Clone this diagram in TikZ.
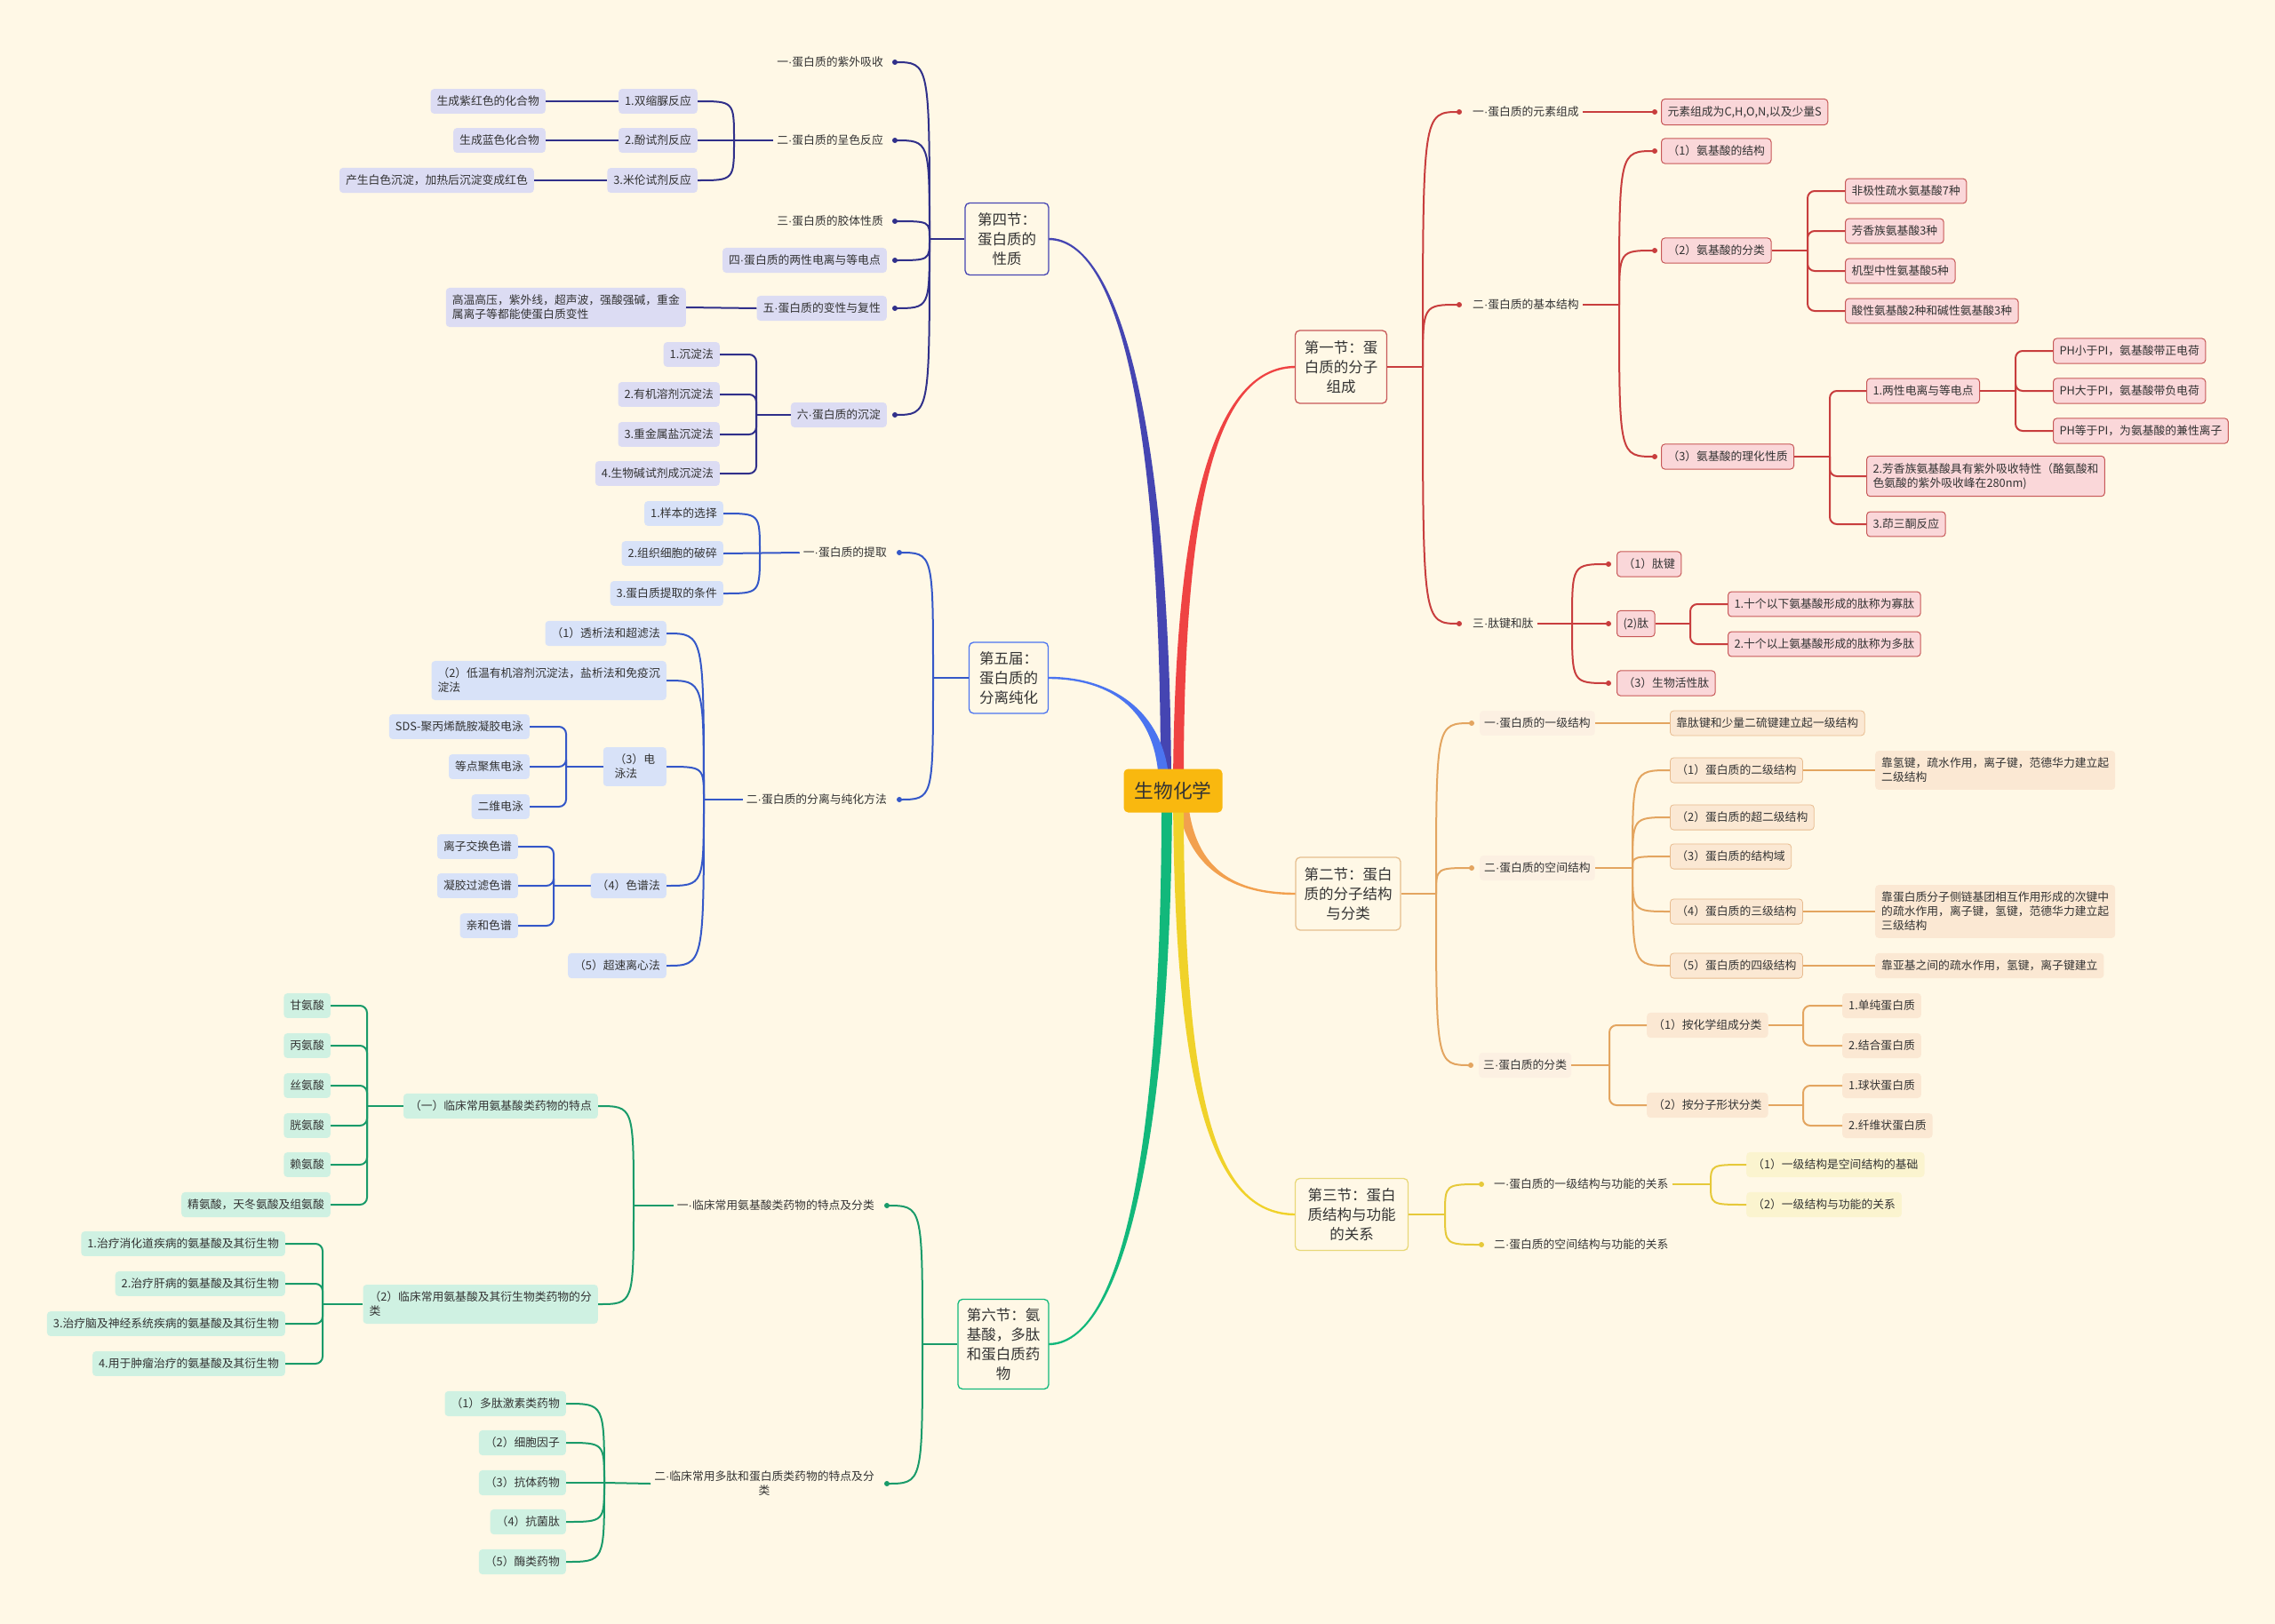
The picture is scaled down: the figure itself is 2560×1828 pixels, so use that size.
\documentclass[tikz,border=0pt]{standalone}
\usepackage{fontspec}
\setmainfont{Noto Sans CJK SC}
\newfontfamily\mdfont{Liberation Sans}
\newcommand\dotc{{\mdfont\char"00B7}}
\definecolor{bg}{HTML}{FFF8E6}
\definecolor{txt}{HTML}{333333}
\definecolor{rootc}{HTML}{F9B80F}
\definecolor{tind}{HTML}{4545B2}
\definecolor{tblu}{HTML}{4B74F0}
\definecolor{tgrn}{HTML}{12B87B}
\definecolor{tred}{HTML}{EF4343}
\definecolor{tora}{HTML}{F2A04E}
\definecolor{tyel}{HTML}{F0D22A}
\definecolor{kind}{HTML}{30308A}
\definecolor{kblu}{HTML}{3558C8}
\definecolor{kgrn}{HTML}{1A9B6A}
\definecolor{kred}{HTML}{C83E3E}
\definecolor{kora}{HTML}{E3A560}
\definecolor{kyel}{HTML}{E6C93A}
\definecolor{flav}{HTML}{DCDCF3}
\definecolor{fblu}{HTML}{D8E2F8}
\definecolor{fgrn}{HTML}{CFF1E2}
\definecolor{fred}{HTML}{FAD7D9}
\definecolor{bred}{HTML}{C75858}
\definecolor{fora}{HTML}{FBE8D3}
\definecolor{bora}{HTML}{E8BC90}
\definecolor{fora2}{HTML}{FCF0E2}
\definecolor{fyel}{HTML}{FBF4CF}
\definecolor{myel}{HTML}{E8D878}
\definecolor{mora}{HTML}{E6BE8E}
\usetikzlibrary{calc}
\newcommand\taper[9]{%
  \pgfmathsetmacro\tpsgn{-sign(#8-#2)*sign(#9-#3)}%
  \fill[#1] ({#2-6},#3) .. controls ({#4-5},#5) and (#6,{#7-\tpsgn*1.2}) .. (#8,{#9-\tpsgn*1.2})
    -- (#8,{#9+\tpsgn*1.2}) .. controls (#6,{#7+\tpsgn*1.2}) and ({#4+5},#5) .. ({#2+6},#3) -- cycle;}
\newcommand\lnkd[4]{%
  \coordinate (tmp) at ([xshift=#4]#3);
  \draw[#1] (#2) .. controls (#2 |- tmp) .. (tmp);
  \fill[#1] (tmp) circle (3);}
\newcommand\lnkn[3]{\draw[#1] (#2) .. controls (#2 |- #3) .. (#3);}
\newcommand\elb[3]{\draw[#1, rounded corners=8] (#2) |- (#3);}
\begin{document}
\begin{tikzpicture}[x=1pt,y=-1pt,
  every node/.style={font=\fontsize{12.8}{16}\selectfont, text=txt},
  bx/.style={rounded corners=4, inner xsep=7, inner ysep=8, align=left},
  lv/.style={inner xsep=4, inner ysep=8, align=left},
  bl4/.style={bx, fill=flav},
  bl5/.style={bx, fill=fblu},
  bl6/.style={bx, fill=fgrn},
  bl1/.style={bx, fill=fred, draw=bred, line width=1},
  bl2/.style={bx, fill=fora, draw=bora, line width=0.8},
  bl2n/.style={bx, fill=fora},
  bl2l/.style={bx, fill=fora2, inner xsep=5},
  bl3/.style={bx, fill=fyel},
  k4/.style={color=kind, line width=2},
  k5/.style={color=kblu, line width=2},
  k6/.style={color=kgrn, line width=2},
  k1/.style={color=kred, line width=2},
  k2/.style={color=kora, line width=2},
  k3/.style={color=kyel, line width=2},
  mainbox/.style={draw, line width=1.3, rounded corners=5, fill=bg, align=center, inner sep=2, font=\fontsize{16.5}{22}\selectfont}
]
\fill[bg] (0,0) rectangle (2560,1828);
\useasboundingbox (0,0) rectangle (2560,1828);

% trunks
\taper{tind}{1312}{890}{1312}{480}{1260}{269}{1180}{269}
\taper{tblu}{1310}{890}{1310}{800}{1250}{763}{1180}{763}
\taper{tgrn}{1313}{890}{1313}{1300}{1260}{1513}{1180}{1513}
\taper{tred}{1326}{890}{1326}{560}{1370}{413}{1458}{413}
\taper{tora}{1330}{890}{1335}{980}{1390}{1006}{1458}{1006}
\taper{tyel}{1326}{890}{1326}{1250}{1370}{1367}{1458}{1367}

\node[fill=rootc, rounded corners=5, minimum width=111, minimum height=49, font=\fontsize{21.7}{26}\selectfont] (root) at (1320,890) {生物化学};

% ===== 第四节 =====
\node[mainbox, draw=tind, minimum width=94, minimum height=81] (A4) at (1133,269) {第四节：\\蛋白质的\\性质};
\coordinate (s4) at (1046,269);
\node[lv, anchor=east] (A4a) at (998,70) {一\dotc 蛋白质的紫外吸收};
\node[lv, anchor=east] (A4b) at (998,158) {二\dotc 蛋白质的呈色反应};
\node[lv, anchor=east] (A4c) at (998,249) {三\dotc 蛋白质的胶体性质};
\node[bl4, anchor=east] (A4d) at (998,293) {四\dotc 蛋白质的两性电离与等电点};
\node[bl4, anchor=east] (A4e) at (998,347) {五\dotc 蛋白质的变性与复性};
\node[bl4, anchor=east] (A4f) at (998,467) {六\dotc 蛋白质的沉淀};
\draw[k4] (A4.west) -- (s4);
\lnkd{k4}{s4}{A4a.east}{9}
\lnkd{k4}{s4}{A4b.east}{9}
\lnkd{k4}{s4}{A4c.east}{9}
\lnkd{k4}{s4}{A4d.east}{9}
\lnkd{k4}{s4}{A4e.east}{9}
\lnkd{k4}{s4}{A4f.east}{9}

\node[bl4, anchor=east] (A4b1) at (785,114) {1.双缩脲反应};
\node[bl4, anchor=east] (A4b2) at (785,158) {2.酚试剂反应};
\node[bl4, anchor=east] (A4b3) at (785,203) {3.米伦试剂反应};
\coordinate (s4b) at (826,158);
\draw[k4] (A4b.west) -- (A4b2.east);
\lnkn{k4}{s4b}{A4b1.east}
\lnkn{k4}{s4b}{A4b3.east}
\node[bl4, anchor=east] (A4b1a) at (614,114) {生成紫红色的化合物};
\node[bl4, anchor=east] (A4b2a) at (614,158) {生成蓝色化合物};
\node[bl4, anchor=east] (A4b3a) at (601,203) {产生白色沉淀，加热后沉淀变成红色};
\draw[k4] (A4b1.west) -- (A4b1a.east);
\draw[k4] (A4b2.west) -- (A4b2a.east);
\draw[k4] (A4b3.west) -- (A4b3a.east);

\node[bl4, anchor=east] (A4e1) at (772,346) {高温高压，紫外线，超声波，强酸强碱，重金\\属离子等都能使蛋白质变性};
\draw[k4] (A4e.west) -- (A4e1.east);

\coordinate (s4f) at (851,467);
\node[bl4, anchor=east] (A4f1) at (810,399) {1.沉淀法};
\node[bl4, anchor=east] (A4f2) at (810,444) {2.有机溶剂沉淀法};
\node[bl4, anchor=east] (A4f3) at (810,489) {3.重金属盐沉淀法};
\node[bl4, anchor=east] (A4f4) at (810,533) {4.生物碱试剂成沉淀法};
\draw[k4] (A4f.west) -- (s4f);
\elb{k4}{s4f}{A4f1.east}
\elb{k4}{s4f}{A4f2.east}
\elb{k4}{s4f}{A4f3.east}
\elb{k4}{s4f}{A4f4.east}

% ===== 第五届 =====
\node[mainbox, draw=tblu, minimum width=89, minimum height=80] (A5) at (1135,763) {第五届：\\蛋白质的\\分离纯化};
\coordinate (s5) at (1050,763);
\node[lv, anchor=east] (A5a) at (1002,622) {一\dotc 蛋白质的提取};
\node[lv, anchor=east] (A5b) at (1002,900) {二\dotc 蛋白质的分离与纯化方法};
\draw[k5] (A5.west) -- (s5);
\lnkd{k5}{s5}{A5a.east}{10}
\lnkd{k5}{s5}{A5b.east}{10}

\coordinate (s5a) at (855,622);
\node[bl5, anchor=east] (A5a1) at (814,578) {1.样本的选择};
\node[bl5, anchor=east] (A5a2) at (814,623) {2.组织细胞的破碎};
\node[bl5, anchor=east] (A5a3) at (814,668) {3.蛋白质提取的条件};
\draw[k5] (A5a.west) -- (A5a2.east);
\lnkn{k5}{s5a}{A5a1.east}
\lnkn{k5}{s5a}{A5a3.east}

\coordinate (s5b) at (792,900);
\node[bl5, anchor=east] (A5b1) at (750,713) {（1）透析法和超滤法};
\node[bl5, anchor=east] (A5b2) at (750,766) {（2）低温有机溶剂沉淀法，盐析法和免疫沉\\淀法};
\node[bl5, anchor=east, minimum width=71] (A5b3) at (750,863) {（3）电\\泳法};
\node[bl5, anchor=east] (A5b4) at (750,997) {（4）色谱法};
\node[bl5, anchor=east] (A5b5) at (750,1087) {（5）超速离心法};
\draw[k5] (A5b.west) -- (s5b);
\lnkn{k5}{s5b}{A5b1.east}
\lnkn{k5}{s5b}{A5b2.east}
\lnkn{k5}{s5b}{A5b3.east}
\lnkn{k5}{s5b}{A5b4.east}
\lnkn{k5}{s5b}{A5b5.east}

\coordinate (s5b3) at (637,863);
\node[bl5, anchor=east] (A5b31) at (596,818) {SDS-聚丙烯酰胺凝胶电泳};
\node[bl5, anchor=east] (A5b32) at (596,863) {等点聚焦电泳};
\node[bl5, anchor=east] (A5b33) at (596,908) {二维电泳};
\draw[k5] (A5b3.west) -- (s5b3);
\elb{k5}{s5b3}{A5b31.east}
\elb{k5}{s5b3}{A5b32.east}
\elb{k5}{s5b3}{A5b33.east}

\coordinate (s5b4) at (623,997);
\node[bl5, anchor=east] (A5b41) at (583,953) {离子交换色谱};
\node[bl5, anchor=east] (A5b42) at (583,997) {凝胶过滤色谱};
\node[bl5, anchor=east] (A5b43) at (583,1042) {亲和色谱};
\draw[k5] (A5b4.west) -- (s5b4);
\elb{k5}{s5b4}{A5b41.east}
\elb{k5}{s5b4}{A5b42.east}
\elb{k5}{s5b4}{A5b43.east}

% ===== 第六节 =====
\node[mainbox, draw=tgrn, minimum width=102, minimum height=101] (A6) at (1129,1513) {第六节：氨\\基酸，多肽\\和蛋白质药\\物};
\coordinate (s6) at (1038,1513);
\node[lv, anchor=east] (A6a) at (988,1357) {一\dotc 临床常用氨基酸类药物的特点及分类};
\node[lv, anchor=east, align=center] (A6b) at (988,1670) {二\dotc 临床常用多肽和蛋白质类药物的特点及分\\类};
\draw[k6] (A6.west) -- (s6);
\lnkd{k6}{s6}{A6a.east}{10}
\lnkd{k6}{s6}{A6b.east}{10}

\coordinate (s6a) at (713,1357);
\node[bl6, anchor=east] (A6a1) at (673,1245) {（一）临床常用氨基酸类药物的特点};
\node[bl6, anchor=east] (A6a2) at (673,1468) {（2）临床常用氨基酸及其衍生物类药物的分\\类};
\draw[k6] (A6a.west) -- (s6a);
\lnkn{k6}{s6a}{A6a1.east}
\lnkn{k6}{s6a}{A6a2.east}

\coordinate (s6a1) at (413,1245);
\node[bl6, anchor=east] (G1) at (372,1132) {甘氨酸};
\node[bl6, anchor=east] (G2) at (372,1177) {丙氨酸};
\node[bl6, anchor=east] (G3) at (372,1222) {丝氨酸};
\node[bl6, anchor=east] (G4) at (372,1267) {胱氨酸};
\node[bl6, anchor=east] (G5) at (372,1311) {赖氨酸};
\node[bl6, anchor=east] (G6) at (372,1356) {精氨酸，天冬氨酸及组氨酸};
\draw[k6] (A6a1.west) -- (s6a1);
\elb{k6}{s6a1}{G1.east}
\elb{k6}{s6a1}{G2.east}
\elb{k6}{s6a1}{G3.east}
\elb{k6}{s6a1}{G4.east}
\elb{k6}{s6a1}{G5.east}
\elb{k6}{s6a1}{G6.east}

\coordinate (s6a2) at (363,1468);
\node[bl6, anchor=east] (H1) at (321,1400) {1.治疗消化道疾病的氨基酸及其衍生物};
\node[bl6, anchor=east] (H2) at (321,1445) {2.治疗肝病的氨基酸及其衍生物};
\node[bl6, anchor=east] (H3) at (321,1490) {3.治疗脑及神经系统疾病的氨基酸及其衍生物};
\node[bl6, anchor=east] (H4) at (321,1535) {4.用于肿瘤治疗的氨基酸及其衍生物};
\draw[k6] (A6a2.west) -- (s6a2);
\elb{k6}{s6a2}{H1.east}
\elb{k6}{s6a2}{H2.east}
\elb{k6}{s6a2}{H3.east}
\elb{k6}{s6a2}{H4.east}

\coordinate (s6b) at (680,1669);
\node[bl6, anchor=east] (P1) at (637,1580) {（1）多肽激素类药物};
\node[bl6, anchor=east] (P2) at (637,1624) {（2）细胞因子};
\node[bl6, anchor=east] (P3) at (637,1669) {（3）抗体药物};
\node[bl6, anchor=east] (P4) at (637,1713) {（4）抗菌肽};
\node[bl6, anchor=east] (P5) at (637,1758) {（5）酶类药物};
\draw[k6] (A6b.west) -- (s6b);
\lnkn{k6}{s6b}{P1.east}
\lnkn{k6}{s6b}{P2.east}
\lnkn{k6}{s6b}{P3.east}
\lnkn{k6}{s6b}{P4.east}
\lnkn{k6}{s6b}{P5.east}

% ===== 第一节 =====
\node[mainbox, draw=bred, minimum width=103, minimum height=82] (A1) at (1509,413) {第一节：蛋\\白质的分子\\组成};
\coordinate (s1) at (1601,413);
\node[lv, anchor=west] (A1a) at (1653,126) {一\dotc 蛋白质的元素组成};
\node[lv, anchor=west] (A1b) at (1653,343) {二\dotc 蛋白质的基本结构};
\node[lv, anchor=west] (A1c) at (1653,702) {三\dotc 肽键和肽};
\draw[k1] (A1.east) -- (s1);
\lnkd{k1}{s1}{A1a.west}{-11}
\lnkd{k1}{s1}{A1b.west}{-11}
\lnkd{k1}{s1}{A1c.west}{-11}

\node[bl1, anchor=west] (A1a1) at (1869,126) {元素组成为C,H,O,N,以及少量S};
\draw[k1] (A1a.east) -- ([xshift=-7]A1a1.west);
\fill[k1] ([xshift=-7]A1a1.west) circle (3);

\coordinate (s1b) at (1822,343);
\node[bl1, anchor=west] (A1b1) at (1869,170) {（1）氨基酸的结构};
\node[bl1, anchor=west] (A1b2) at (1869,282) {（2）氨基酸的分类};
\node[bl1, anchor=west] (A1b3) at (1869,514) {（3）氨基酸的理化性质};
\draw[k1] (A1b.east) -- (s1b);
\lnkd{k1}{s1b}{A1b1.west}{-7}
\lnkd{k1}{s1b}{A1b2.west}{-7}
\lnkd{k1}{s1b}{A1b3.west}{-7}

\coordinate (s1b2) at (2034,282);
\node[bl1, anchor=west] (K1) at (2076,215) {非极性疏水氨基酸7种};
\node[bl1, anchor=west] (K2) at (2076,260) {芳香族氨基酸3种};
\node[bl1, anchor=west] (K3) at (2076,305) {机型中性氨基酸5种};
\node[bl1, anchor=west] (K4) at (2076,350) {酸性氨基酸2种和碱性氨基酸3种};
\draw[k1] (A1b2.east) -- (s1b2);
\elb{k1}{s1b2}{K1.west}
\elb{k1}{s1b2}{K2.west}
\elb{k1}{s1b2}{K3.west}
\elb{k1}{s1b2}{K4.west}

\coordinate (s1b3) at (2059,514);
\node[bl1, anchor=west] (L1) at (2100,440) {1.两性电离与等电点};
\node[bl1, anchor=west] (L2) at (2100,536) {2.芳香族氨基酸具有紫外吸收特性（酪氨酸和\\色氨酸的紫外吸收峰在280nm)};
\node[bl1, anchor=west] (L3) at (2100,590) {3.茚三酮反应};
\draw[k1] (A1b3.east) -- (s1b3);
\elb{k1}{s1b3}{L1.west}
\elb{k1}{s1b3}{L2.west}
\elb{k1}{s1b3}{L3.west}

\coordinate (s1b31) at (2268,440);
\node[bl1, anchor=west] (M1) at (2310,395) {PH小于PI，氨基酸带正电荷};
\node[bl1, anchor=west] (M2) at (2310,440) {PH大于PI，氨基酸带负电荷};
\node[bl1, anchor=west] (M3) at (2310,485) {PH等于PI，为氨基酸的兼性离子};
\draw[k1] (L1.east) -- (s1b31);
\elb{k1}{s1b31}{M1.west}
\elb{k1}{s1b31}{M2.west}
\elb{k1}{s1b31}{M3.west}

\coordinate (s1c) at (1769,702);
\node[bl1, anchor=west] (N1) at (1819,635) {（1）肽键};
\node[bl1, anchor=west] (N2) at (1819,702) {(2)肽};
\node[bl1, anchor=west] (N3) at (1819,769) {（3）生物活性肽};
\draw[k1] (A1c.east) -- (s1c);
\lnkd{k1}{s1c}{N1.west}{-9}
\lnkd{k1}{s1c}{N2.west}{-9}
\lnkd{k1}{s1c}{N3.west}{-9}

\coordinate (s1c2) at (1902,702);
\node[bl1, anchor=west] (O1) at (1944,680) {1.十个以下氨基酸形成的肽称为寡肽};
\node[bl1, anchor=west] (O2) at (1944,725) {2.十个以上氨基酸形成的肽称为多肽};
\draw[k1] (N2.east) -- (s1c2);
\elb{k1}{s1c2}{O1.west}
\elb{k1}{s1c2}{O2.west}

% ===== 第二节 =====
\node[mainbox, draw=mora, minimum width=118, minimum height=82] (A2) at (1517,1006) {第二节：蛋白\\质的分子结构\\与分类};
\coordinate (s2) at (1616,1006);
\node[bl2l, anchor=west] (A2a) at (1665,814) {一\dotc 蛋白质的一级结构};
\node[bl2l, anchor=west] (A2b) at (1665,977) {二\dotc 蛋白质的空间结构};
\node[bl2l, anchor=west] (A2c) at (1664,1199) {三\dotc 蛋白质的分类};
\draw[k2] (A2.east) -- (s2);
\lnkd{k2}{s2}{A2a.west}{-9}
\lnkd{k2}{s2}{A2b.west}{-9}
\lnkd{k2}{s2}{A2c.west}{-9}

\node[bl2, anchor=west] (A2a1) at (1879,814) {靠肽键和少量二硫键建立起一级结构};
\draw[k2] (A2a.east) -- (A2a1.west);

\coordinate (s2b) at (1837,977);
\node[bl2, anchor=west] (Q1) at (1879,867) {（1）蛋白质的二级结构};
\node[bl2, anchor=west] (Q2) at (1879,920) {（2）蛋白质的超二级结构};
\node[bl2, anchor=west] (Q3) at (1879,964) {（3）蛋白质的结构域};
\node[bl2, anchor=west] (Q4) at (1879,1026) {（4）蛋白质的三级结构};
\node[bl2, anchor=west] (Q5) at (1879,1087) {（5）蛋白质的四级结构};
\draw[k2] (A2b.east) -- (s2b);
\lnkn{k2}{s2b}{Q1.west}
\lnkn{k2}{s2b}{Q2.west}
\lnkn{k2}{s2b}{Q3.west}
\lnkn{k2}{s2b}{Q4.west}
\lnkn{k2}{s2b}{Q5.west}

\node[bl2n, anchor=west] (R1) at (2110,867) {靠氢键，疏水作用，离子键，范德华力建立起\\二级结构};
\node[bl2n, anchor=west] (R4) at (2110,1026) {靠蛋白质分子侧链基团相互作用形成的次键中\\的疏水作用，离子键，氢键，范德华力建立起\\三级结构};
\node[bl2n, anchor=west] (R5) at (2110,1087) {靠亚基之间的疏水作用，氢键，离子键建立};
\draw[k2] (Q1.east) -- (R1.west);
\draw[k2] (Q4.east) -- (R4.west);
\draw[k2] (Q5.east) -- (R5.west);

\coordinate (s2c) at (1811,1199);
\node[bl2n, anchor=west] (T1) at (1853,1154) {（1）按化学组成分类};
\node[bl2n, anchor=west] (T2) at (1853,1244) {（2）按分子形状分类};
\draw[k2] (A2c.east) -- (s2c);
\elb{k2}{s2c}{T1.west}
\elb{k2}{s2c}{T2.west}

\coordinate (s2c1) at (2029,1154);
\node[bl2n, anchor=west] (T11) at (2073,1132) {1.单纯蛋白质};
\node[bl2n, anchor=west] (T12) at (2073,1177) {2.结合蛋白质};
\draw[k2] (T1.east) -- (s2c1);
\elb{k2}{s2c1}{T11.west}
\elb{k2}{s2c1}{T12.west}

\coordinate (s2c2) at (2029,1244);
\node[bl2n, anchor=west] (T21) at (2073,1222) {1.球状蛋白质};
\node[bl2n, anchor=west] (T22) at (2073,1267) {2.纤维状蛋白质};
\draw[k2] (T2.east) -- (s2c2);
\elb{k2}{s2c2}{T21.west}
\elb{k2}{s2c2}{T22.west}

% ===== 第三节 =====
\node[mainbox, draw=myel, minimum width=127, minimum height=81] (A3) at (1521,1367) {第三节：蛋白\\质结构与功能\\的关系};
\coordinate (s3) at (1626,1367);
\node[lv, anchor=west] (A3a) at (1677,1333) {一\dotc 蛋白质的一级结构与功能的关系};
\node[lv, anchor=west] (A3b) at (1677,1401) {二\dotc 蛋白质的空间结构与功能的关系};
\draw[k3] (A3.east) -- (s3);
\lnkd{k3}{s3}{A3a.west}{-10}
\lnkd{k3}{s3}{A3b.west}{-10}

\coordinate (s3a) at (1925,1333);
\node[bl3, anchor=west] (U1) at (1965,1311) {（1）一级结构是空间结构的基础};
\node[bl3, anchor=west] (U2) at (1965,1356) {（2）一级结构与功能的关系};
\draw[k3] (A3a.east) -- (s3a);
\lnkn{k3}{s3a}{U1.west}
\lnkn{k3}{s3a}{U2.west}
\end{tikzpicture}
\end{document}
